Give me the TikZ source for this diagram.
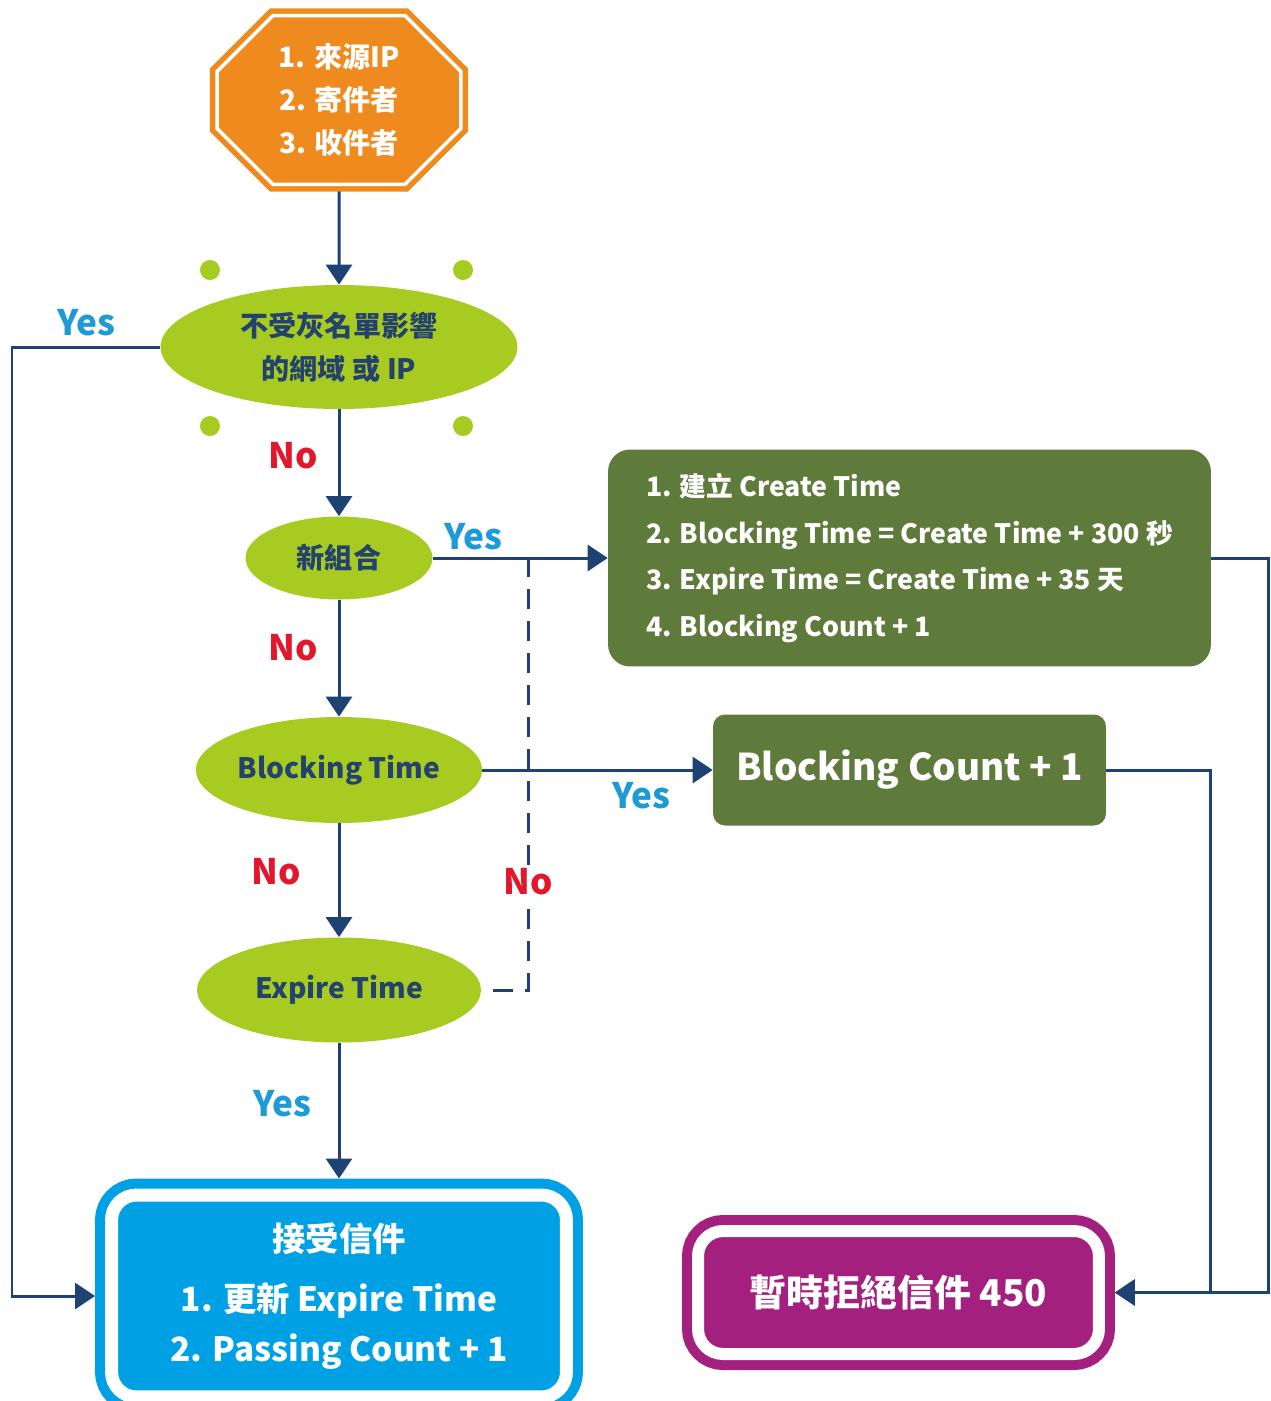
\documentclass[tikz,border=0pt]{standalone}
\usepackage{fontspec}
\setmainfont{Noto Sans CJK TC}
\usetikzlibrary{arrows.meta,positioning,calc,shapes.geometric,shapes.misc}
\definecolor{navy}{HTML}{1F4275}
\definecolor{ink}{HTML}{24426E}
\definecolor{srcorange}{HTML}{EF8A1E}
\definecolor{lime}{HTML}{A8CB22}
\definecolor{olive}{HTML}{5F7B3B}
\definecolor{okblue}{HTML}{00A0E4}
\definecolor{plum}{HTML}{A3207F}
\definecolor{yesblue}{HTML}{1E9AD6}
\definecolor{nored}{HTML}{E3172B}
\tikzset{
  decide/.style={ellipse,fill=lime,inner sep=0pt,text=ink,align=center,font=\bfseries\fontsize{16}{24.5}\selectfont},
  action/.style={fill=olive,rounded corners=0.44cm,text=white,inner sep=0pt},
  dot/.style={circle,fill=lime,inner sep=0pt,minimum size=0.4cm},
  flow/.style={-{Triangle[length=0.4cm,width=0.52cm]},line width=0.06cm,color=navy},
  link/.style={line width=0.06cm,color=navy},
  dashlink/.style={link,dash pattern=on 0.4cm off 0.24cm},
  yes/.style={text=yesblue,font=\bfseries\fontsize{20}{22}\selectfont,inner sep=1pt},
  no/.style={text=nored,font=\bfseries\fontsize{20}{22}\selectfont,inner sep=1pt},
}

\begin{document}
\begin{tikzpicture}[x=0.02cm,y=-0.02cm,
  endbox/.style={rounded corners=0.5cm,text=white,align=center,draw,double=white}]
  \useasboundingbox (0,0) rectangle (1271,1401);
  \node[chamfered rectangle,chamfered rectangle xsep=0.56cm,chamfered rectangle ysep=0.56cm,
        minimum width=4.88cm,minimum height=3.32cm,inner sep=0pt,outer sep=0.14cm,
        fill=srcorange,draw=srcorange,double=white,line width=0.11cm,double distance=0.07cm,
        text=white,align=center,font=\bfseries\fontsize{16}{24.5}\selectfont] (src) at (339,100)
        {1. 來源IP\\2. 寄件者\\3. 收件者};
  \node[decide,minimum width=7.14cm,minimum height=2.48cm] (white) at (339,347) {不受灰名單影響\\的網域 或 IP};
  \node[dot] (d1) at (210,270) {};
  \node[dot] (d2) at (463,270) {};
  \node[dot] (d3) at (210,426) {};
  \node[dot] (d4) at (463,426) {};
  \node[decide,minimum width=3.74cm,minimum height=1.66cm] (newc) at (339,558) {新組合};
  \node[decide,minimum width=5.68cm,minimum height=2.12cm] (block) at (339,770) {Blocking Time};
  \node[decide,minimum width=5.68cm,minimum height=2.1cm] (expire) at (339,990) {Expire Time};
  \node[action,minimum width=12.06cm,minimum height=4.34cm,align=left,
        font=\bfseries\fontsize{15.2}{26.6}\selectfont] (init) at (909.5,558)
        {1. 建立 Create Time\\2. Blocking Time = Create Time + 300 秒\\3. Expire Time = Create Time + 35 天\\4. Blocking Count + 1};
  \node[action,rounded corners=0.24cm,minimum width=7.86cm,minimum height=2.22cm,
        font=\bfseries\fontsize{21}{23}\selectfont] (bcount) at (909.5,770) {Blocking Count + 1};
  \node[endbox,fill=okblue,draw=okblue,line width=0.2cm,double distance=0.26cm,outer sep=0.33cm,
        minimum width=9.1cm,minimum height=4.04cm,font=\bfseries\fontsize{19}{28.4}\selectfont] (accept) at (339,1296)
        {接受信件\\[6pt]1. 更新 Expire Time\\2. Passing Count + 1};
  \node[endbox,fill=plum,draw=plum,line width=0.2cm,double distance=0.24cm,outer sep=0.32cm,
        minimum width=8.02cm,minimum height=2.46cm,font=\bfseries\fontsize{21}{23}\selectfont] (reject) at (898.5,1292.5)
        {暫時拒絕信件 450};
  % rails
  \coordinate (lrail) at (12,0);
  \coordinate (drail) at (528,0);
  \coordinate (mrail) at (1210,0);
  \coordinate (rrail) at (1268,0);
  \draw[flow] (src) -- (white);
  \draw[flow] (white) -- (newc);
  \draw[flow] (newc) -- (block);
  \draw[flow] (block) -- (expire);
  \draw[flow] (expire) -- (accept);
  \draw[flow] (white.west) -- (lrail |- white.west) |- (accept.west);
  \draw[flow] (newc.east) -- (init.west);
  \draw[flow] (block.east) -- (bcount.west);
  \draw[dashlink] ([xshift=0.24cm]expire.east) -- (drail |- expire.east) -- (drail |- newc.east);
  \draw[flow] (init.east) -- (rrail |- init.east) |- (reject.east);
  \draw[flow] (bcount.east) -- (mrail |- bcount.east) |- (reject.east);
  % labels
  \node[yes] (y1) at (86,323) {Yes};
  \node[no] (n1) at (293,456) {No};
  \node[yes] (y2) at (473,537) {Yes};
  \node[no] (n2) at (293,648) {No};
  \node[yes] (y3) at (641,796) {Yes};
  \node[no] (n3) at (276,872) {No};
  \node[no,fill=white] (n4) at (528,882) {No};
  \node[yes] (y4) at (282,1104) {Yes};
\end{tikzpicture}
\end{document}
